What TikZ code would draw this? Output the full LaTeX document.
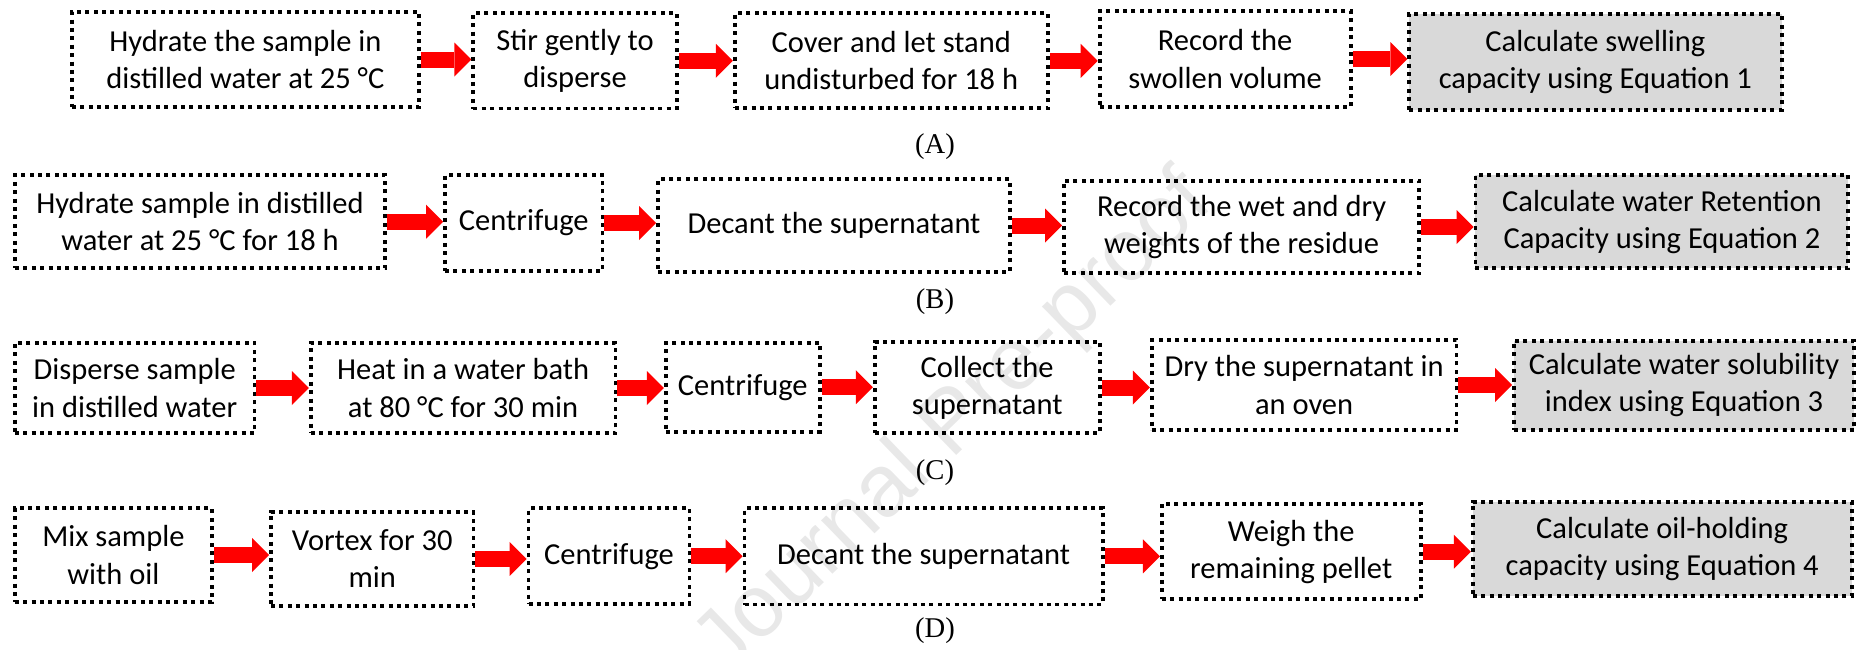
\documentclass[tikz,border=0pt]{standalone}
\usepackage{fontspec}
\setmainfont{Carlito}
\newfontfamily\lblfont{Liberation Serif}
\newfontfamily\wmfont{Liberation Sans}
\usetikzlibrary{arrows.meta}
\definecolor{boxgray}{RGB}{217,217,217}
\definecolor{arrowred}{RGB}{255,0,0}
\definecolor{wmgray}{RGB}{232,232,232}
\newcommand\stepfont{\fontsize{15.25pt}{18.6pt}\selectfont}
\newcommand\panelfont{\lblfont\fontsize{14.3pt}{17pt}\selectfont}
\newcommand\wmarkfont{\wmfont\fontsize{44pt}{50pt}\selectfont}
\begin{document}
\begin{tikzpicture}[x=0.5pt,y=-0.5pt,
  stepbox/.style={draw=black, line width=1.9pt, dash pattern=on 2pt off 2.2pt,
    inner sep=0pt, align=center, font=\stepfont, text=black},
  calcbox/.style={stepbox, fill=boxgray},
  flowarrow/.style={draw=arrowred, line width=8pt,
    -{Triangle[length=8.5pt,width=17pt,line width=0pt]}},
  panel/.style={font=\panelfont, inner sep=0pt},
  wmark/.style={font=\wmarkfont, text=wmgray, inner sep=0pt}]
\useasboundingbox (0,0) rectangle (1856,649);

% watermark
\node[wmark, rotate=44] (wm) at (955,425) {Journal Pre-proof};

% Row A
\node[stepbox, minimum width=173.65pt, minimum height=47.8pt] (a1) at (245.4,59.5) {Hydrate the sample in\\distilled water at 25 °C};
\node[stepbox, minimum width=101.7pt, minimum height=47.75pt] (a2) at (575,60.8) {Stir gently to\\disperse};
\node[stepbox, minimum width=156.55pt, minimum height=47.5pt] (a3) at (891.3,60.8) {Cover and let stand\\undisturbed for 18 h};
\node[stepbox, minimum width=125.5pt, minimum height=48.3pt] (a4) at (1225.1,59) {Record the\\swollen volume};
\node[calcbox, minimum width=186.2pt, minimum height=48pt] (a5) at (1595.4,62) {Calculate swelling\\capacity using Equation 1};
\node[panel] (la) at (935,147) {(A)};

% Row B
\node[stepbox, minimum width=185pt, minimum height=46.65pt] (b1) at (200,221.7) {Hydrate sample in distilled\\water at 25 °C for 18 h};
\node[stepbox, minimum width=78.75pt, minimum height=48pt] (b2) at (523.8,223) {Centrifuge};
\node[stepbox, minimum width=175.95pt, minimum height=46.2pt] (b3) at (834,225.5) {Decant the supernatant};
\node[stepbox, minimum width=177.6pt, minimum height=46.3pt] (b4) at (1241.6,227) {Record the wet and dry\\weights of the residue};
\node[calcbox, minimum width=186.45pt, minimum height=46.65pt] (b5) at (1661.9,221.7) {Calculate water Retention\\Capacity using Equation 2};
\node[panel] (lb) at (935,302) {(B)};

% Row C
\node[stepbox, minimum width=119.85pt, minimum height=45.3pt] (c1) at (134.7,388) {Disperse sample\\in distilled water};
\node[stepbox, minimum width=152.4pt, minimum height=45.3pt] (c2) at (463.1,388) {Heat in a water bath\\at 80 °C for 30 min};
\node[stepbox, minimum width=76.95pt, minimum height=44.5pt] (c3) at (742.8,387.2) {Centrifuge};
\node[stepbox, minimum width=112.45pt, minimum height=45.8pt] (c4) at (987.2,387.5) {Collect the\\supernatant};
\node[stepbox, minimum width=152.4pt, minimum height=45pt] (c5) at (1304.1,385) {Dry the supernatant in\\an oven};
\node[calcbox, minimum width=170.05pt, minimum height=44.65pt] (c6) at (1684,385.4) {Calculate water solubility\\index using Equation 3};
\node[panel] (lc) at (935,473) {(C)};

% Row D
\node[stepbox, minimum width=98.55pt, minimum height=46.7pt] (d1) at (113.4,555) {Mix sample\\with oil};
\node[stepbox, minimum width=101.25pt, minimum height=47.15pt] (d2) at (372.3,558.9) {Vortex for 30\\min};
\node[stepbox, minimum width=80.5pt, minimum height=47.85pt] (d3) at (609,556.2) {Centrifuge};
\node[stepbox, minimum width=179.05pt, minimum height=48.1pt] (d4) at (923.6,556.4) {Decant the supernatant};
\node[stepbox, minimum width=129.4pt, minimum height=47.65pt] (d5) at (1291.2,551.7) {Weigh the\\remaining pellet};
\node[calcbox, minimum width=189.5pt, minimum height=47.15pt] (d6) at (1662.2,548.9) {Calculate oil-holding\\capacity using Equation 4};
\node[panel] (ld) at (935,631) {(D)};

% arrows
\foreach \s/\t in {a1/a2,a2/a3,a3/a4,a4/a5,
                   b1/b2,b2/b3,b3/b4,b4/b5,
                   c1/c2,c2/c3,c3/c4,c4/c5,c5/c6,
                   d1/d2,d2/d3,d3/d4,d4/d5,d5/d6}
  \draw[flowarrow] (\s.east) -- (\s.east -| \t.west);
\end{tikzpicture}
\end{document}
